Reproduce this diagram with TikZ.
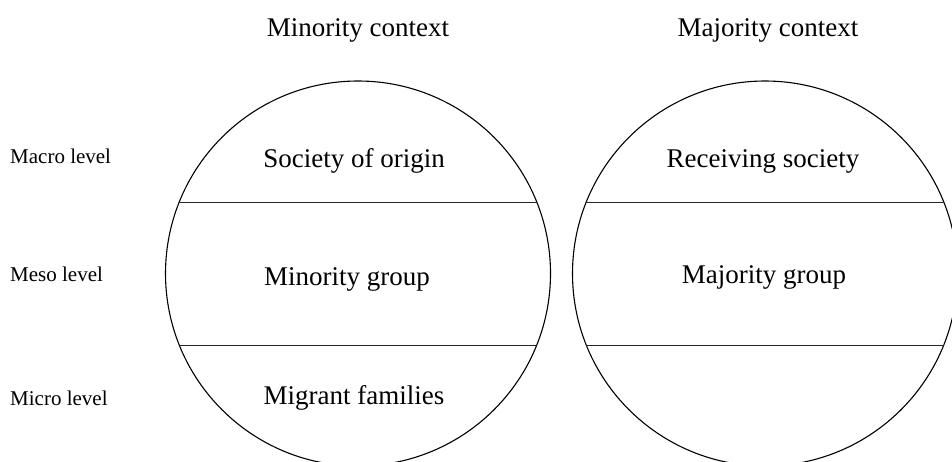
\documentclass[tikz,border=0pt]{standalone}
\usepackage{fontspec}
\setmainfont{Liberation Serif}
\usetikzlibrary{calc}
\begin{document}
\begin{tikzpicture}[x=1pt,y=1pt,
  ring/.style={circle, draw, line width=1.1pt, minimum size=385pt, inner sep=0pt, outer sep=0pt},
  band/.style={line width=0.9pt, draw=black!85},
  heading/.style={font=\fontsize{27}{32}\selectfont, anchor=base, inner sep=0pt},
  sector/.style={font=\fontsize{27}{32}\selectfont, anchor=base, inner sep=0pt},
  levelname/.style={font=\fontsize{21}{25}\selectfont, anchor=base west, inner sep=0pt}]
\useasboundingbox (0,0) rectangle (952,-461);
\clip (0,0) rectangle (952,-461);

% column headings
\node[heading] (hmin) at (358,-36) {Minority context};
\node[heading] (hmaj) at (768,-36) {Majority context};

% level names on the left
\node[levelname] (macro) at (10,-163) {Macro level};
\node[levelname] (meso)  at (10,-281) {Meso level};
\node[levelname] (micro) at (10,-405) {Micro level};

% the two contexts
\node[ring] (lc) at (358,-273.5) {};
\node[ring] (rc) at (765,-273.5) {};

% level boundaries: chords 71.5pt above and below each centre
\foreach \c in {lc,rc} {
  \coordinate (\c-ul) at ($(\c.center)+(-178.7,71.5)$);
  \coordinate (\c-ur) at ($(\c.center)+(178.7,71.5)$);
  \coordinate (\c-ll) at ($(\c.center)+(-178.7,-71.5)$);
  \coordinate (\c-lr) at ($(\c.center)+(178.7,-71.5)$);
  \draw[band] (\c-ul) -- (\c-ur);
  \draw[band] (\c-ll) -- (\c-lr);
}

% sector texts
\node[sector] (origin)   at (354,-167) {Society of origin};
\node[sector] (mingroup) at (347,-285) {Minority group};
\node[sector] (families) at (354,-404) {Migrant families};
\node[sector] (receive)  at (763,-167) {Receiving society};
\node[sector] (majgroup) at (764,-283) {Majority group};
\end{tikzpicture}
\end{document}
